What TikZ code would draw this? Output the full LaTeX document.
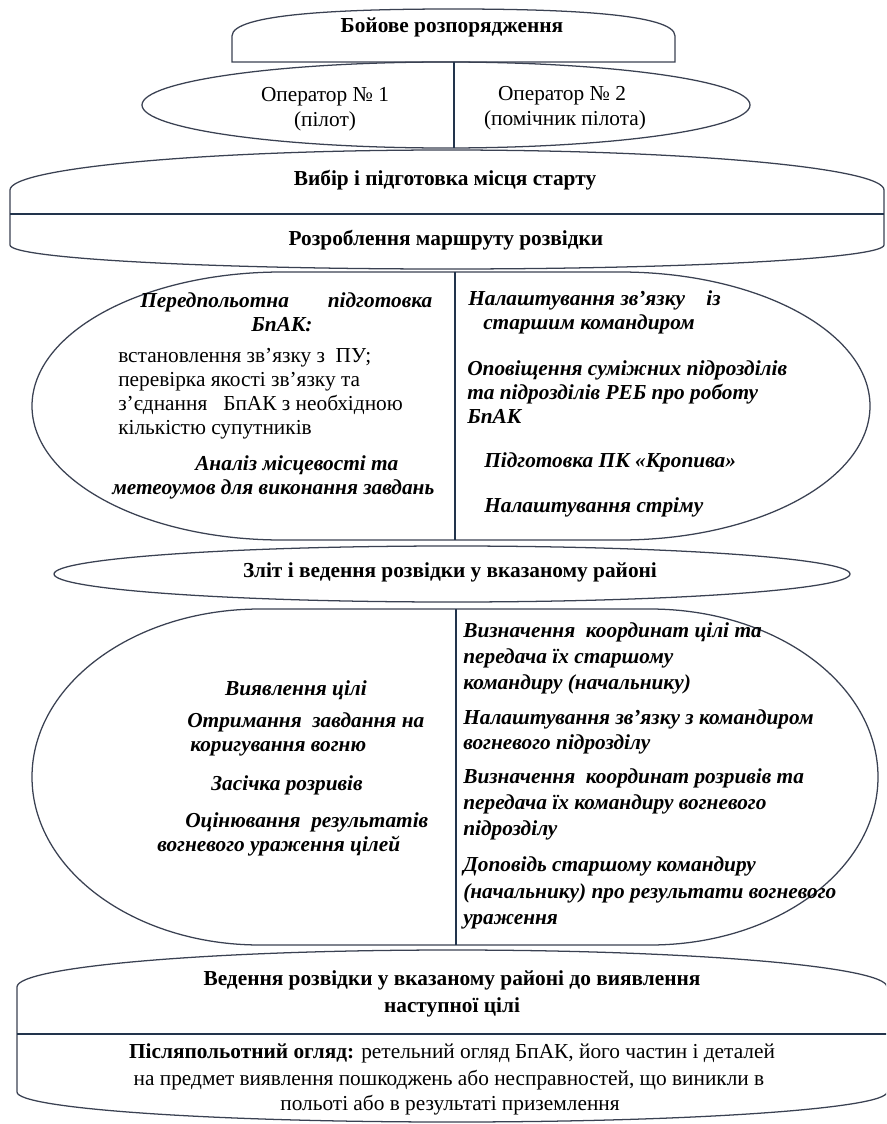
\documentclass[tikz,border=0pt]{standalone}
\usepackage{fontspec}
\setmainfont{Liberation Serif}
\definecolor{lineC}{HTML}{3A4152}
\definecolor{divC}{HTML}{22344C}
\begin{document}
\begin{tikzpicture}[x=0.75pt,y=-0.75pt,
  outline/.style={draw=lineC, line width=0.95pt},
  divider/.style={draw=divC, line width=1.3pt},
  txt/.style={inner sep=0pt, text height=11pt, text depth=3.5pt, font=\fontsize{16}{19}\selectfont},
  tb/.style={txt, font=\fontsize{16}{19}\selectfont\bfseries},
  tbi/.style={txt, font=\fontsize{16}{19}\selectfont\bfseries\itshape},
  lft/.style={anchor=west}]
\useasboundingbox (0,0) rectangle (886,1124);
\clip (0,0) rectangle (886,1124);

% shape 1
\draw[outline] (232,62) -- (232,36) .. controls (232,14) and (340,9) .. (453.5,9) .. controls (567,9) and (675,14) .. (675,36) -- (675,62) -- cycle;
% operators ellipse
\draw[outline] (446,105) ellipse [x radius=304, y radius=43];
\draw[divider] (454,62) -- (454,148);
% shape 2
\draw[outline] (10,190) arc[start angle=180, end angle=360, x radius=437, y radius=40] -- (884,245) arc[start angle=0, end angle=180, x radius=437, y radius=24] -- cycle;
\draw[divider] (10,214) -- (884,214);
% shape 3
\draw[outline] (282,272) -- (620,272) arc[start angle=270, end angle=450, x radius=250, y radius=134] -- (282,540) arc[start angle=90, end angle=270, x radius=250, y radius=134] -- cycle;
\draw[divider] (455,272) -- (455,540);
% shape 4
\draw[outline] (452,574) ellipse [x radius=398, y radius=28];
% shape 5
\draw[outline] (260,609) -- (650,609) arc[start angle=270, end angle=450, x radius=228, y radius=168] -- (260,945) arc[start angle=90, end angle=270, x radius=228, y radius=168] -- cycle;
\draw[divider] (456,609) -- (456,945);
% shape 6
\draw[outline] (17,987) arc[start angle=180, end angle=360, x radius=435, y radius=37] -- (887,1092) arc[start angle=0, end angle=180, x radius=435, y radius=30] -- cycle;
\draw[divider] (17,1034) -- (887,1034);

% texts
\node[tb] (boy) at (452,28) {Бойове розпорядження};
\node[txt] (op1) at (325,97) {Оператор № 1};
\node[txt] (op1b) at (325,122) {(пілот)};
\node[txt] (op2) at (562,95) {Оператор № 2};
\node[txt] (op2b) at (565,120) {(помічник пілота)};
\node[tb] (vyb) at (445,180) {Вибір і підготовка місця старту};
\node[tb] (roz) at (446,240) {Розроблення маршруту розвідки};

\node[tbi,lft] (l1) at (140,302) {\hbox to 219pt{Передпольотна\hfill підготовка}};
\node[tbi] (l2) at (282,326) {БпАК:};
\node[txt,lft] (l3) at (118,357) {встановлення зв’язку з\ \ ПУ;};
\node[txt,lft] (l4) at (118,381) {перевірка якості зв’язку та};
\node[txt,lft] (l5) at (118,405) {з’єднання\ \ \ БпАК з необхідною};
\node[txt,lft] (l6) at (118,429) {кількістю супутників};
\node[tbi,lft] (l7) at (195,465) {Аналіз місцевості та};
\node[tbi,lft] (l8) at (112,489) {метеоумов для виконання завдань};

\node[tbi,lft] (r1) at (468,300) {Налаштування зв’язку\ \ \ \ із};
\node[tbi,lft] (r2) at (483,324) {старшим командиром};
\node[tbi,lft] (r3) at (467,370) {Оповіщення суміжних підрозділів};
\node[tbi,lft] (r4) at (467,394) {та підрозділів РЕБ про роботу};
\node[tbi,lft] (r5) at (467,418) {БпАК};
\node[tbi,lft] (r6) at (484,462) {Підготовка ПК «Кропива»};
\node[tbi,lft] (r7) at (484,507) {Налаштування стріму};

\node[tb] (zlit) at (450,572) {Зліт і ведення розвідки у вказаному районі};

\node[tbi] (a1) at (296,690) {Виявлення цілі};
\node[tbi,lft] (a2) at (187,722) {Отримання\ \ завдання на};
\node[tbi,lft] (a3) at (190,746) {коригування вогню};
\node[tbi] (a4) at (287,785) {Засічка розривів};
\node[tbi,lft] (a5) at (185,822) {Оцінювання\ \ результатів};
\node[tbi,lft] (a6) at (157,846) {вогневого ураження цілей};

\node[tbi,lft] (b1) at (463,632) {Визначення\ \ координат цілі та};
\node[tbi,lft] (b2) at (463,658) {передача їх старшому};
\node[tbi,lft] (b3) at (463,684) {командиру (начальнику)};
\node[tbi,lft] (b4) at (463,719) {Налаштування зв’язку з командиром};
\node[tbi,lft] (b5) at (463,744) {вогневого підрозділу};
\node[tbi,lft] (b6) at (463,778) {Визначення\ \ координат розривів та};
\node[tbi,lft] (b7) at (463,804) {передача їх командиру вогневого};
\node[tbi,lft] (b8) at (463,830) {підрозділу};
\node[tbi,lft] (b9) at (463,866) {Доповідь старшому командиру};
\node[tbi,lft] (b10) at (463,893) {(начальнику) про результати вогневого};
\node[tbi,lft] (b11) at (463,919) {ураження};

\node[tb] (ved1) at (452,980) {Ведення розвідки у вказаному районі до виявлення};
\node[tb] (ved2) at (452,1007) {наступної цілі};
\node[txt] (pis1) at (452,1053) {\textbf{Післяпольотний огляд:} ретельний огляд БпАК, його частин і деталей};
\node[txt] (pis2) at (449,1080) {на предмет виявлення пошкоджень або несправностей, що виникли в};
\node[txt] (pis3) at (450,1105) {польоті або в результаті приземлення};
\end{tikzpicture}
\end{document}
